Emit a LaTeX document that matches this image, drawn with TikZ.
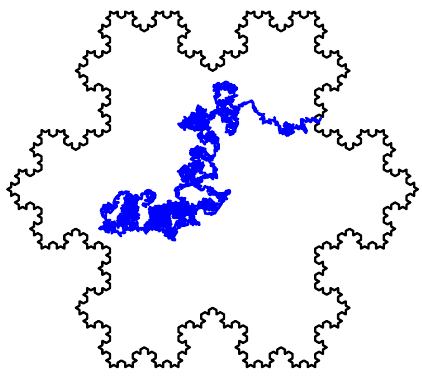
\documentclass[tikz,border=0pt]{standalone}
\usetikzlibrary{lindenmayersystems, decorations.pathmorphing}

\pgfdeclarelindenmayersystem{koch}{\rule{F -> F-F++F-F}}
\tikzset{
    walk/.style={blue, line width=2.5pt, line join=round, decorate,
        decoration={random steps, segment length=1pt, amplitude=2.8pt}},
    snowflake/.style={black, line width=2.3pt, line join=round}
}
% scribble around a centre: x, y, radius, strokes
\newcommand{\walkblob}[4]{
    \foreach \k in {1,...,#4} {
        \draw[walk] (#1+#3*rand,#2+#3*rand) -- (#1+#3*rand,#2+#3*rand);
    }
}

\begin{document}
\begin{tikzpicture}[x=1pt,y=-1pt]
    \pgfmathsetseed{2718}
    \useasboundingbox (0,0) rectangle (422,376);

    % Snowflake
    \begin{scope}[shift={(110,11.5)},rotate=-90]
        \draw[snowflake] (0,0) [l-system={koch, axiom=F++F++F, angle=60, step=4.39pt, order=4}] lindenmayer system -- cycle;
    \end{scope}

    % Walk, in a third of a pixel
    \begin{scope}[shift={(90,70)},x=0.3333pt,y=-0.3333pt]
        % Tail
        \draw[walk] (690,150) -- (665,152) -- (640,150) -- (635,160) -- (650,182) -- (625,170) -- (610,175) -- (597,192) -- (575,182) -- (565,165) -- (555,150) -- (540,155) -- (520,155) -- (515,135) -- (495,125) -- (490,100) -- (470,98) -- (450,108) -- (445,125);
        \walkblob{593}{175}{14}{12}
        % Upper ring
        \draw[walk] (445,125) -- (420,105) -- (385,100) -- (375,85) -- (385,70) -- (372,45) -- (400,40) -- (435,50) -- (435,80) -- (415,95) -- (395,110);
        \draw[walk] (380,50) -- (415,45) -- (430,65) -- (400,50) -- (382,60);
        \walkblob{385}{55}{10}{6}
        \walkblob{425}{55}{10}{6}
        \walkblob{420}{95}{12}{7}
        \walkblob{395}{100}{10}{6}
        % Below the ring
        \draw[walk] (395,110) -- (380,125) -- (400,120) -- (440,130) -- (440,165) -- (420,195) -- (410,180) -- (425,150) -- (400,150) -- (395,130) -- (370,125) -- (365,145) -- (340,130);
        \walkblob{425}{135}{12}{7}
        \walkblob{405}{145}{10}{6}
        \walkblob{430}{170}{10}{6}
        % Upper cluster
        \draw[walk] (340,130) -- (330,110) -- (320,130) -- (295,150) -- (270,168) -- (300,175) -- (320,170) -- (345,155) -- (330,135) -- (315,150) -- (335,180) -- (350,150) -- (360,190) -- (385,205) -- (365,215) -- (345,205) -- (330,190) -- (340,215) -- (380,215) -- (380,240) -- (365,260);
        \walkblob{335}{130}{12}{9}
        \walkblob{320}{145}{16}{14}
        \walkblob{295}{160}{14}{10}
        \walkblob{340}{165}{16}{14}
        \walkblob{325}{175}{10}{6}
        \walkblob{360}{198}{14}{10}
        % Middle cluster
        \draw[walk] (365,260) -- (345,240) -- (320,230) -- (300,250) -- (345,240) -- (355,270) -- (330,250) -- (310,270) -- (340,290) -- (300,285) -- (270,300) -- (275,320) -- (300,345) -- (330,352) -- (320,330) -- (345,315) -- (380,320) -- (375,295) -- (360,265);
        \walkblob{325}{250}{15}{12}
        \walkblob{320}{290}{18}{15}
        \walkblob{295}{315}{18}{15}
        \walkblob{320}{335}{14}{10}
        \walkblob{368}{325}{7}{4}
        % Right arm
        \draw[walk] (330,352) -- (370,360) -- (380,380) -- (420,365) -- (395,395) -- (380,420) -- (355,432) -- (325,405) -- (350,390) -- (375,400) -- (350,415) -- (345,390);
        \walkblob{350}{405}{14}{11}
        \walkblob{375}{410}{12}{8}
        \walkblob{395}{385}{12}{8}
        \walkblob{360}{362}{9}{6}
        % Lower cluster
        \draw[walk] (300,340) -- (270,350) -- (258,365) -- (270,385) -- (295,400) -- (322,420) -- (305,450) -- (328,465) -- (295,455) -- (255,470) -- (250,510) -- (225,480) -- (175,470) -- (170,485) -- (130,470) -- (90,495) -- (60,480) -- (32,478) -- (55,455) -- (35,430) -- (50,405) -- (80,410) -- (78,385) -- (95,368) -- (120,375) -- (145,385) -- (165,365) -- (195,370) -- (180,395) -- (160,410);
        \walkblob{210}{440}{34}{50}
        \walkblob{265}{420}{24}{26}
        \walkblob{300}{425}{15}{12}
        \walkblob{275}{450}{14}{10}
        \walkblob{120}{430}{26}{36}
        \walkblob{120}{398}{20}{18}
        \walkblob{95}{455}{18}{16}
        \walkblob{130}{468}{14}{10}
        \walkblob{62}{470}{16}{14}
        \walkblob{55}{415}{12}{7}
        \walkblob{178}{385}{12}{8}
        \walkblob{240}{400}{10}{7}
        \walkblob{240}{485}{10}{6}
        \walkblob{170}{470}{10}{5}
        \walkblob{310}{455}{9}{5}
    \end{scope}
\end{tikzpicture}
\end{document}
